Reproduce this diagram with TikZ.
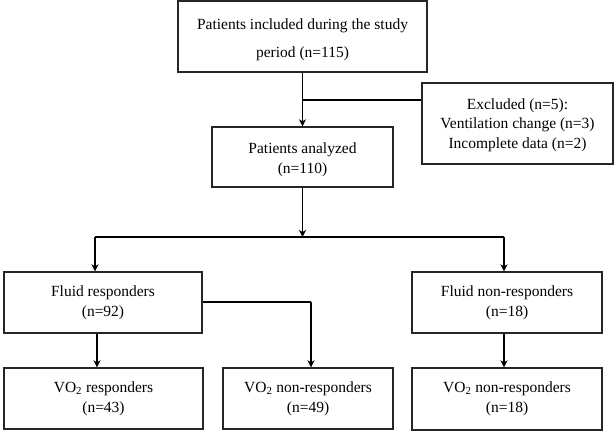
\documentclass[tikz,border=0pt]{standalone}
\usepackage{fontspec}
\setmainfont{Liberation Serif}
\usetikzlibrary{arrows.meta}
\tikzset{
  box/.style={draw=black!85, line width=1.3pt, inner sep=0pt, align=center,
    font=\fontsize{15.5}{20}\selectfont},
  txt/.style={inner sep=0pt, align=center, font=\fontsize{15.5}{20}\selectfont},
  conn/.style={line width=1.8pt, black},
  arr/.style={conn, -{Stealth[length=7pt,width=7pt,inset=2pt]}}
}
\begin{document}
\begin{tikzpicture}[x=1pt,y=-1pt]
\useasboundingbox (0,0) rectangle (615,434);
% boxes
\node[box, minimum width=249pt, minimum height=71pt] (top) at (302.5,36.5) {};
\node[txt, font=\fontsize{15.5}{28}\selectfont, yshift=-3.5pt] (toptext) at (top.center)
  {Patients included during the study\\period (n=115)};
\node[box, minimum width=191pt, minimum height=81pt] (excl) at (517.5,123.5) {};
\node[txt, font=\fontsize{15.5}{19.5}\selectfont, yshift=-1.5pt] (excltext) at (excl.center)
  {Excluded (n=5):\\Ventilation change (n=3)\\Incomplete data (n=2)};
\node[box, minimum width=181pt, minimum height=60pt] (ana) at (302.5,157) {};
\node[txt, yshift=-3pt] (anatext) at (ana.center) {Patients analyzed\\(n=110)};
\node[box, minimum width=198pt, minimum height=61pt] (fr) at (103,302.5)
  {Fluid responders\\(n=92)};
\node[box, minimum width=190pt, minimum height=61pt] (fnr) at (507,302.5)
  {Fluid non-responders\\(n=18)};
\node[box, minimum width=199pt, minimum height=61pt] (vr) at (103.5,398.5)
  {VO\textsubscript{2} responders\\(n=43)};
\node[box, minimum width=170pt, minimum height=61pt] (vnr) at (308,398.5)
  {VO\textsubscript{2} non-responders\\(n=49)};
\node[box, minimum width=190pt, minimum height=62pt] (vnr2) at (507,399)
  {VO\textsubscript{2} non-responders\\(n=18)};
% junctions
\coordinate (j1) at (302.5,100);
\coordinate (j2) at (302.5,237);
\coordinate (jl) at (95,237);
\coordinate (jr) at (504,237);
\coordinate (jf) at (311,302);
\coordinate (jv) at (97,0);
% connectors
\draw[arr] (top) -- (ana);
\draw[conn] (j1) -- (j1 -| excl.west);
\draw[arr] (ana) -- (j2);
\draw[conn] (jl) -- (jr);
\draw[arr] (jl) -- (jl |- fr.north);
\draw[arr] (jr) -- (jr |- fnr.north);
\draw[arr] (jv |- fr.south) -- (jv |- vr.north);
\draw[conn] (fr.east |- jf) -- (jf);
\draw[arr] (jf) -- (jf |- vnr.north);
\draw[arr] (jr |- fnr.south) -- (jr |- vnr2.north);
\end{tikzpicture}
\end{document}
